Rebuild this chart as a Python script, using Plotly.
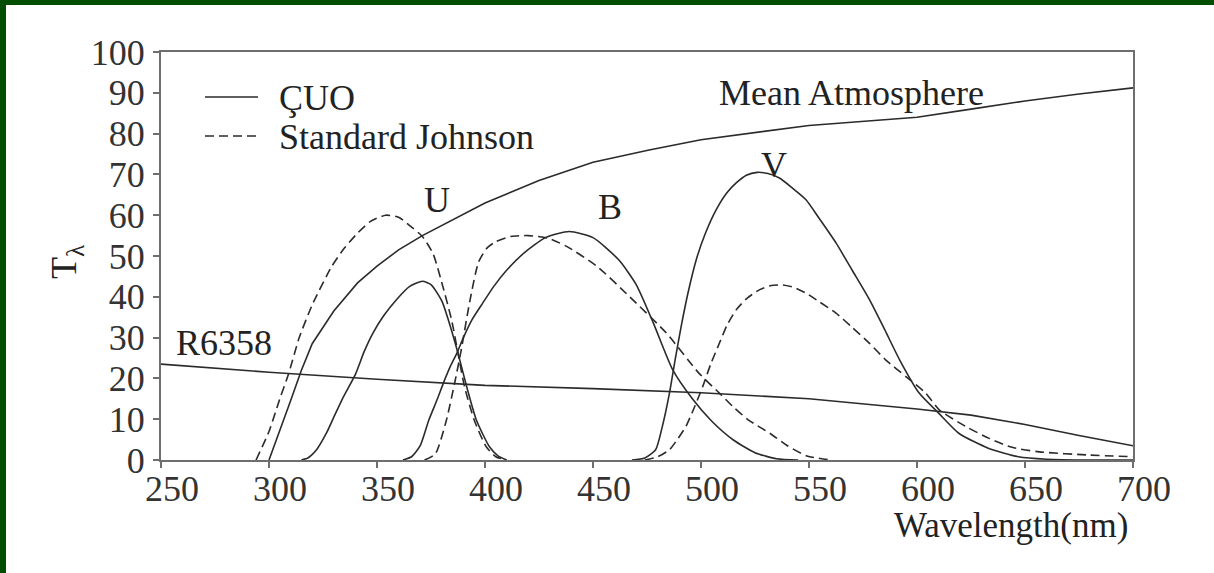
import plotly.graph_objects as go

# ---------------- data ----------------
atm_x = [300, 305, 310, 315, 320, 330, 341, 350, 360, 371, 388, 400, 425, 450, 476, 500, 550, 600, 625, 650, 675, 700]
atm_y = [0, 7, 14.5, 22, 28.5, 36.5, 43.4, 47.5, 51.5, 55, 59.8, 63, 68.5, 73, 76, 78.5, 82, 84, 86, 88, 89.7, 91.2]

r_x = [250, 300, 350, 400, 450, 500, 550, 600, 625, 650, 675, 700]
r_y = [23.5, 21.5, 19.8, 18.3, 17.5, 16.5, 15, 12.5, 11, 8.7, 6, 3.5]

cu_x = [315, 318, 322, 326.5, 330, 334, 340, 344, 348, 353, 359, 365, 371, 375, 380, 383, 387.5, 391.5, 396, 402, 406, 410]
cu_y = [0, 0.5, 2.5, 6.5, 10.5, 15, 21, 26.5, 31, 35.3, 39.3, 42.5, 43.8, 43, 39, 34.4, 26.2, 18, 9.8, 3.3, 1, 0]

ju_x = [294, 300, 305, 309, 314, 320, 329, 335, 341, 347, 354, 360, 365, 371, 376, 380.5, 384.5, 387.5, 390.5, 395, 400.5, 405, 410]
ju_y = [0, 7, 15, 21, 30, 38, 47.4, 52, 55.6, 58.5, 60, 59.5, 57.5, 54.8, 50.5, 42.5, 34.4, 26.2, 18, 9.8, 3.3, 0.8, 0]

cb_x = [362, 366, 370, 374, 378, 381, 384, 387, 390, 394, 399, 404, 410, 418, 428, 439, 450, 462, 470, 478, 487, 496, 505, 515, 525, 535, 545]
cb_y = [0, 0.8, 3.5, 9.8, 15, 19.2, 23, 26.2, 30, 34.4, 38.5, 42.5, 46.5, 50.7, 54.5, 56, 54.5, 49, 43, 33.5, 22, 15, 9.5, 4.9, 1.8, 0.3, 0]

jb_x = [372, 377, 382, 386, 389, 393, 397, 401, 405, 412, 420, 429, 438, 452, 467, 484, 499, 508.5, 515, 522, 532, 540, 549, 560]
jb_y = [0, 1.5, 9.5, 19, 27, 39, 48.5, 52, 53.5, 54.8, 55, 54.4, 52.3, 47.4, 40, 31.1, 21.3, 16.4, 13, 9.8, 6.5, 3.5, 1, 0]

cv_x = [468, 474, 479, 482, 485.4, 488, 490.8, 494, 497.8, 502, 507, 512, 516.3, 521, 526, 531, 536.3, 542, 548.6, 555, 562.5, 570, 578, 585, 592, 601, 610, 619.5, 633, 647, 660, 680, 700]
cv_y = [0, 0.5, 2.5, 8, 16.4, 24.5, 32.7, 41, 49.1, 55.5, 61.3, 65.5, 67.9, 69.8, 70.5, 70.2, 69.1, 66.8, 63.8, 59, 53.2, 46.5, 39.3, 32, 24.5, 16.4, 11.5, 6.5, 2.9, 0.8, 0.2, 0, 0]

jv_x = [474, 480, 485.4, 489, 493, 497, 500.8, 504.5, 508.5, 512, 516.3, 521, 527, 532, 537.8, 543, 548.6, 555, 562.5, 570, 578, 585.6, 595, 604, 610.3, 622.6, 633.4, 644, 656.6, 680, 700]
jv_y = [0, 0.8, 2.5, 5, 8.2, 13, 18, 23.5, 28.6, 33, 36.8, 39.5, 41.7, 42.7, 42.9, 42.3, 40.9, 38.7, 36, 32.5, 28.6, 24.5, 20.4, 16.4, 12.3, 8.2, 5.3, 3.1, 2.0, 1.2, 0.8]

x_ticks = [250, 300, 350, 400, 450, 500, 550, 600, 650, 700]
y_ticks = [0, 10, 20, 30, 40, 50, 60, 70, 80, 90, 100]

labels = ["U", "B", "V", "Mean Atmosphere", "R6358"]
label_x = [378, 457.7, 534, 569.5, 279.2]
label_y = [63.8, 62, 72.3, 90.0, 28.8]

# ---------------- styling ----------------
LINE = "#2b2b2b"
FONT = "Liberation Serif, Times New Roman, serif"
FS = 36
W, H = 1214, 573
ML, MR, MT, MB = 161, 81, 52, 113
PW, PH = W - ML - MR, H - MT - MB

def px(xp):
    return (xp - ML) / PW

def py(yp):
    return (H - MB - yp) / PH

fig = go.Figure()

def add(x, y, dash=None, shape="spline"):
    fig.add_trace(go.Scatter(
        x=x, y=y, mode="lines", showlegend=False, hoverinfo="skip",
        line=dict(color=LINE, width=1.6, dash=dash or "solid",
                  shape=shape, smoothing=0.6 if shape == "spline" else None),
    ))

add(atm_x, atm_y, shape="linear")
add(r_x, r_y, shape="linear")
add(cu_x, cu_y)
add(ju_x, ju_y, dash="9px,5px")
add(cb_x, cb_y)
add(jb_x, jb_y, dash="9px,5px")
add(cv_x, cv_y)
add(jv_x, jv_y, dash="9px,5px")

annotations = []
for t, x, y in zip(labels, label_x, label_y):
    annotations.append(dict(x=x, y=y, xref="x", yref="y", text=t, showarrow=False,
                            font=dict(family=FONT, size=FS, color="#222")))

# legend (manual)
annotations.append(dict(x=px(277), y=py(98), xref="paper", yref="paper", text="ÇUO",
                        showarrow=False, xanchor="left", yanchor="middle",
                        font=dict(family=FONT, size=FS, color="#222")))
annotations.append(dict(x=px(277), y=py(137), xref="paper", yref="paper", text="Standard Johnson",
                        showarrow=False, xanchor="left", yanchor="middle",
                        font=dict(family=FONT, size=FS, color="#222")))
# axis titles
annotations.append(dict(x=px(1130), y=py(525), xref="paper", yref="paper", text="Wavelength(nm)",
                        showarrow=False, xanchor="right", yanchor="middle",
                        font=dict(family=FONT, size=35, color="#222")))
annotations.append(dict(x=px(66), y=py(262), xref="paper", yref="paper", text="T<sub>λ</sub>",
                        showarrow=False, textangle=-90, xanchor="center", yanchor="middle",
                        font=dict(family=FONT, size=FS, color="#222")))

shapes = [
    # legend samples
    dict(type="line", xref="paper", yref="paper", x0=px(205), x1=px(258), y0=py(97), y1=py(97),
         line=dict(color=LINE, width=1.6)),
    dict(type="line", xref="paper", yref="paper", x0=px(205), x1=px(258), y0=py(136), y1=py(136),
         line=dict(color=LINE, width=1.6, dash="9px,5px")),
    # green frame (top and left)
    dict(type="rect", xref="paper", yref="paper", x0=px(0), x1=px(6), y0=py(H), y1=py(0),
         fillcolor="#014d01", line=dict(width=0), layer="above"),
    dict(type="rect", xref="paper", yref="paper", x0=px(0), x1=px(W), y0=py(5), y1=py(0),
         fillcolor="#014d01", line=dict(width=0), layer="above"),
]

fig.update_layout(
    width=W, height=H,
    margin=dict(l=ML, r=MR, t=MT, b=MB, pad=0),
    paper_bgcolor="white", plot_bgcolor="white",
    annotations=annotations, shapes=shapes,
    xaxis=dict(range=[250, 700], tickvals=x_ticks, ticktext=[str(v) for v in x_ticks],
               showgrid=False, zeroline=False, showline=True, linecolor="#6e6e6e", linewidth=2,
               mirror=True, ticks="outside", ticklen=6, tickwidth=2, tickcolor="#6e6e6e",
               tickfont=dict(family=FONT, size=FS, color="#333"),
               ticklabelshift=11, ticklabelstandoff=-10),
    yaxis=dict(range=[0, 100], tickvals=y_ticks, ticktext=[str(v) for v in y_ticks],
               showgrid=False, zeroline=False, showline=True, linecolor="#6e6e6e", linewidth=2,
               mirror=True, ticks="outside", ticklen=6, tickwidth=2, tickcolor="#6e6e6e",
               tickfont=dict(family=FONT, size=FS, color="#333"), ticklabelstandoff=1),
    showlegend=False,
)

fig.write_html("out.html")
